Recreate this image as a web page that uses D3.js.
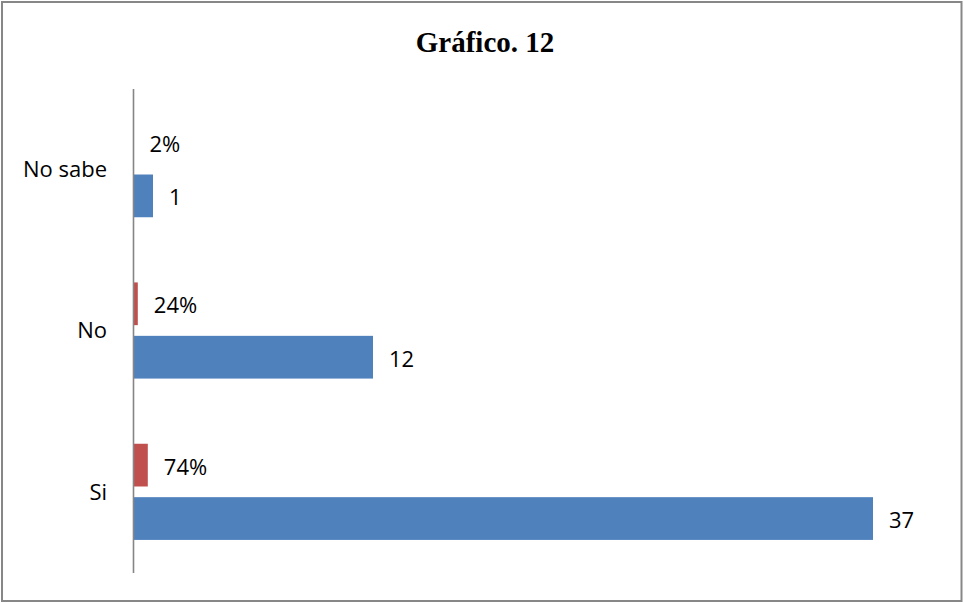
<!DOCTYPE html>
<html>
<head>
<meta charset="utf-8">
<script src="https://cdn.jsdelivr.net/npm/d3@7"></script>
<style>
  html, body { margin: 0; padding: 0; background: #fff; }
  svg { display: block; }
</style>
</head>
<body>
<svg id="chart" width="964" height="603"></svg>
<script>
// Survey answers: counts and their share of the total
const categories = ["No sabe", "No", "Si"];
const counts = [1, 12, 37];
const shares = [0.02, 0.24, 0.74];
const shareLabels = ["2%", "24%", "74%"];
const seriesKeys = ["share", "count"];
const title = "Gráfico. 12";

const W = 964, H = 603;
const svg = d3.select("#chart");

// outer frame
svg.append("rect")
  .attr("x", 2).attr("y", 2)
  .attr("width", W - 4.5).attr("height", H - 4)
  .attr("fill", "#fff")
  .attr("stroke", "#878787")
  .attr("stroke-width", 2);

// title
svg.append("text")
  .attr("x", 485).attr("y", 51.5)
  .attr("text-anchor", "middle")
  .attr("font-family", "'Liberation Serif', 'Times New Roman', serif")
  .attr("font-weight", "bold")
  .attr("font-size", 29)
  .attr("fill", "#000")
  .text(title);

// scales
const x = d3.scaleLinear().domain([0, 40]).range([133, 933]);
const y0 = d3.scaleBand().domain(categories).range([88.5, 572.5]).padding(0);
const y1 = d3.scaleBand().domain(seriesKeys)
  .range([0, y0.bandwidth()])
  .paddingInner(0.2)
  .paddingOuter(0.61);

const colors = { share: "#C0504D", count: "#4F81BD" };
const rows = categories.map((c, i) => ({
  cat: c,
  values: [
    { key: "share", v: shares[i], label: shareLabels[i] },
    { key: "count", v: counts[i], label: String(counts[i]) }
  ]
}));

const groups = svg.append("g").selectAll("g")
  .data(rows)
  .join("g")
  .attr("transform", d => `translate(0,${y0(d.cat)})`);

groups.selectAll("rect")
  .data(d => d.values)
  .join("rect")
  .attr("x", x(0))
  .attr("y", d => y1(d.key))
  .attr("width", d => x(d.v) - x(0))
  .attr("height", y1.bandwidth())
  .attr("fill", d => colors[d.key]);

groups.selectAll("text")
  .data(d => d.values)
  .join("text")
  .attr("x", d => x(d.v) + 16)
  .attr("y", d => y1(d.key) + y1.bandwidth() / 2 + 9.5)
  .attr("font-family", "'Open Sans', sans-serif")
  .attr("font-size", 22)
  .attr("fill", "#000")
  .text(d => d.label);

// category axis
const axis = svg.append("g")
  .attr("transform", `translate(${x(0)},0)`)
  .call(d3.axisLeft(y0).tickSize(0).tickSizeOuter(0).tickPadding(26));
axis.select(".domain").attr("stroke", "#868686").attr("stroke-width", 1.6);
axis.selectAll(".tick text")
  .attr("font-family", "'Open Sans', sans-serif")
  .attr("font-size", 22)
  .attr("fill", "#000")
  .attr("dy", "0.35em");
</script>
</body>
</html>
